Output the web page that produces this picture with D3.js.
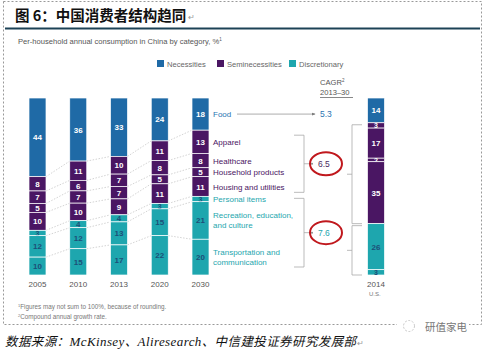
<!DOCTYPE html>
<html>
<head>
<meta charset="utf-8">
<script src="https://cdn.jsdelivr.net/npm/d3@7"></script>
<style>
  body { margin: 0; background: #fff; }
  svg { display: block; }
</style>
</head>
<body>
<div id="chart"></div>
<script>
// data
const years = ["2005", "2010", "2013", "2020", "2030"];
const categories = ["Food", "Apparel", "Healthcare", "Household products", "Housing and utilities",
    "Personal items", "Recreation, education,|and culture", "Transportation and|communication"];
const categoryGroup = ["Necessities", "Seminecessities", "Seminecessities", "Seminecessities",
    "Seminecessities", "Discretionary", "Discretionary", "Discretionary"];
const values2005 = [44, 8, 7, 5, 10, 3, 12, 10];
const values2010 = [36, 11, 6, 7, 10, 4, 12, 15];
const values2013 = [33, 10, 7, 7, 9, 4, 13, 17];
const values2020 = [24, 11, 8, 5, 11, 3, 15, 22];
const values2030 = [18, 13, 8, 5, 11, 3, 21, 20];
const valuesUS2014 = [14, 3, 17, 2, 35, 0, 26, 3];
const groups = ["Necessities", "Seminecessities", "Discretionary"];
const cagrValues = ["5.3", "6.5", "7.6"];

const width = 486, height = 351;
const barTop = 98, barBottom = 275, barW = 17;
const font = "'Liberation Sans', Arial, sans-serif";

const color = d3.scaleOrdinal().domain(groups).range(["#1f6aa6", "#4a1663", "#1ea6ae"]);
const textColor = d3.scaleOrdinal().domain(groups).range(["#fff", "#fff", "#1d4f78"]);
const labelColor = d3.scaleOrdinal().domain(groups).range(["#2b74b2", "#4a1663", "#1ea6ae"]);

const svg = d3.select("#chart").append("svg")
    .attr("width", width)
    .attr("height", height);

// dashed frame
svg.append("rect")
    .attr("x", 3.5).attr("y", 1.5)
    .attr("width", 478).attr("height", 323)
    .attr("fill", "none")
    .attr("stroke", "#999")
    .attr("stroke-dasharray", "2,2");

// title
svg.append("text")
    .attr("x", 15).attr("y", 21)
    .style("font-family", "'Noto Sans CJK SC', sans-serif")
    .style("font-size", "14.5px")
    .style("font-weight", 700)
    .style("fill", "#111")
    .text("图 6：中国消费者结构趋同");
svg.append("text")
    .attr("x", 188).attr("y", 20)
    .style("font-family", font)
    .style("font-size", "8px")
    .style("fill", "#999")
    .text("↵");

svg.append("line")
    .attr("x1", 5).attr("x2", 480)
    .attr("y1", 28.5).attr("y2", 28.5)
    .attr("stroke", "#1c4256")
    .attr("stroke-width", 2.2);

svg.append("text")
    .attr("x", 18).attr("y", 44)
    .style("font-family", font)
    .style("font-size", "7.6px")
    .style("fill", "#555")
    .text("Per-household annual consumption in China by category, %")
    .append("tspan")
    .attr("dy", -3)
    .style("font-size", "4.5px")
    .text("1");

// legend
const legendX = [157, 217, 289];
const legend = svg.selectAll(".legend-item")
    .data(groups)
    .enter()
    .append("g")
    .attr("class", "legend-item")
    .attr("transform", (d, i) => `translate(${legendX[i]}, 60)`);
legend.append("rect")
    .attr("width", 7).attr("height", 7)
    .attr("fill", d => color(d));
legend.append("text")
    .attr("x", 10).attr("y", 6.5)
    .style("font-family", font)
    .style("font-size", "7.6px")
    .style("fill", "#666")
    .text(d => d);

// bars
const xScale = d3.scalePoint().domain(years).range([37.5, 200.5]);
const series = [values2005, values2010, values2013, values2020, values2030];

function stackBar(values) {
    const y = d3.scaleLinear().domain([0, d3.sum(values)]).range([barTop, barBottom]);
    const ends = d3.cumsum(values);
    return values.map((v, i) => ({
        value: v,
        group: categoryGroup[i],
        y0: y(ends[i] - v),
        y1: y(ends[i])
    }));
}

const stacks = series.map(stackBar);
const usStack = stackBar(valuesUS2014);

// dotted connectors between neighbouring bars
const connectors = svg.append("g");
for (let b = 0; b < stacks.length - 1; b++) {
    for (let i = 0; i < categories.length - 1; i++) {
        connectors.append("line")
            .attr("x1", xScale(years[b]) + barW / 2)
            .attr("x2", xScale(years[b + 1]) - barW / 2)
            .attr("y1", stacks[b][i].y1)
            .attr("y2", stacks[b + 1][i].y1)
            .attr("stroke", "#c8c8c8")
            .attr("stroke-width", 0.8)
            .attr("stroke-dasharray", "1.5,1.5");
    }
}

function drawBar(g, stack) {
    const seg = g.selectAll(".seg")
        .data(stack.filter(d => d.value > 0))
        .enter()
        .append("g")
        .attr("class", "seg");
    seg.append("rect")
        .attr("x", -barW / 2)
        .attr("y", d => d.y0)
        .attr("width", barW)
        .attr("height", d => d.y1 - d.y0)
        .attr("fill", d => color(d.group))
        .attr("stroke", "#fff")
        .attr("stroke-width", 0.7);
    seg.append("text")
        .attr("x", 0)
        .attr("y", d => (d.y0 + d.y1) / 2 + 3)
        .style("font-family", font)
        .style("font-size", d => d.value <= 3 ? "7px" : "8px")
        .style("font-weight", 700)
        .style("text-anchor", "middle")
        .style("fill", d => textColor(d.group))
        .text(d => d.value);
}

stacks.forEach((stack, b) => {
    const g = svg.append("g").attr("transform", `translate(${xScale(years[b])}, 0)`);
    drawBar(g, stack);
    g.append("text")
        .attr("y", 287)
        .style("font-family", font)
        .style("font-size", "8px")
        .style("fill", "#555")
        .style("text-anchor", "middle")
        .text(years[b]);
});

const usX = 376;
const usG = svg.append("g").attr("transform", `translate(${usX}, 0)`);
drawBar(usG, usStack);
usG.append("text")
    .attr("y", 287)
    .style("font-family", font)
    .style("font-size", "8px")
    .style("fill", "#555")
    .style("text-anchor", "middle")
    .text("2014");
usG.append("text")
    .attr("x", -7)
    .attr("y", 296)
    .style("font-family", font)
    .style("font-size", "6px")
    .style("fill", "#777")
    .text("U.S.");

// category labels next to 2030 bar
const last = stacks[stacks.length - 1];
const labelX = xScale("2030") + barW / 2 + 4;
const catLabels = svg.selectAll(".cat-label")
    .data(categories)
    .enter()
    .append("text")
    .attr("class", "cat-label")
    .attr("x", labelX)
    .attr("y", (d, i) => {
        const lines = d.split("|").length;
        return (last[i].y0 + last[i].y1) / 2 + 3 - (lines - 1) * 5;
    })
    .style("font-family", font)
    .style("font-size", "8px")
    .style("fill", (d, i) => labelColor(categoryGroup[i]));
catLabels.each(function(d) {
    const el = d3.select(this);
    d.split("|").forEach((line, k) => {
        el.append("tspan")
            .attr("x", labelX)
            .attr("dy", k === 0 ? 0 : 10)
            .text(line);
    });
});

// CAGR header
const cagrX = 320;
svg.append("text")
    .attr("x", cagrX).attr("y", 85)
    .style("font-family", font)
    .style("font-size", "7.6px")
    .style("fill", "#555")
    .text("CAGR")
    .append("tspan")
    .attr("dy", -3)
    .style("font-size", "4.5px")
    .text("2");
svg.append("text")
    .attr("x", cagrX).attr("y", 95)
    .style("font-family", font)
    .style("font-size", "7.6px")
    .style("fill", "#555")
    .text("2013–30");
svg.append("line")
    .attr("x1", cagrX).attr("x2", cagrX + 33)
    .attr("y1", 97.5).attr("y2", 97.5)
    .attr("stroke", "#555").attr("stroke-width", 0.7);

// arrow from Food
svg.append("defs").append("marker")
    .attr("id", "arr")
    .attr("viewBox", "0 0 6 6")
    .attr("refX", 5).attr("refY", 3)
    .attr("markerWidth", 5).attr("markerHeight", 5)
    .attr("orient", "auto")
    .append("path")
    .attr("d", "M0,0.5 L6,3 L0,5.5 Z")
    .attr("fill", "#777");

const foodY = (last[0].y0 + last[0].y1) / 2;
svg.append("line")
    .attr("x1", 237).attr("x2", 315)
    .attr("y1", foodY).attr("y2", foodY)
    .attr("stroke", "#888").attr("stroke-width", 0.7)
    .attr("marker-end", "url(#arr)");

// brackets
const bracketColor = "#aaa";
function bracket(x, y0, y1, dir, tick) {
    // dir: -1 -> ends point left, tick points right; 1 -> ends point right, tick left
    const g = svg.append("g")
        .attr("fill", "none")
        .attr("stroke", bracketColor)
        .attr("stroke-width", 0.8);
    g.append("path")
        .attr("d", `M${x + dir * 10},${y0} H${x} V${y1} H${x + dir * 10}`);
    const mid = (y0 + y1) / 2;
    g.append("line")
        .attr("x1", x).attr("x2", x - dir * tick)
        .attr("y1", mid).attr("y2", mid);
    return mid;
}

const semiMid = bracket(304, last[1].y0 + 5, last[4].y1 - 4, -1, 6);
const discMid = bracket(304, last[5].y0 + 2, last[7].y1 - 8, -1, 6);
bracket(352, usStack[1].y0 + 2, usStack[4].y1, 1, 5);
bracket(352, usStack[5].y0 + 2, usStack[7].y1, 1, 5);

const cagrData = [
    { value: cagrValues[0], y: foodY, group: "Necessities", circle: false },
    { value: cagrValues[1], y: semiMid, group: "Seminecessities", circle: true },
    { value: cagrValues[2], y: discMid, group: "Discretionary", circle: true }
];

svg.selectAll(".cagr-dot")
    .data(cagrData.filter(d => d.circle))
    .enter()
    .append("circle")
    .attr("cx", 312).attr("cy", d => d.y)
    .attr("r", 1)
    .attr("fill", "#888");

svg.selectAll(".cagr")
    .data(cagrData)
    .enter()
    .append("text")
    .attr("x", d => d.circle ? 318 : cagrX)
    .attr("y", d => d.y + 3)
    .style("font-family", font)
    .style("font-size", "8.5px")
    .style("fill", d => d.group === "Seminecessities" ? "#4a2a63" : labelColor(d.group))
    .text(d => d.value);

svg.selectAll(".ring")
    .data(cagrData.filter(d => d.circle))
    .enter()
    .append("ellipse")
    .attr("cx", 326).attr("cy", d => d.y)
    .attr("rx", 16).attr("ry", 11.5)
    .attr("fill", "none")
    .attr("stroke", "#c0181d")
    .attr("stroke-width", 2);

// footnotes
const notes = svg.append("g")
    .style("font-family", font)
    .style("font-size", "6.3px")
    .style("fill", "#777");
const n1 = notes.append("text").attr("x", 18).attr("y", 309);
n1.append("tspan").attr("dy", -2).style("font-size", "4px").text("1");
n1.append("tspan").attr("dy", 2).text("Figures may not sum to 100%, because of rounding.");
const n2 = notes.append("text").attr("x", 18).attr("y", 319);
n2.append("tspan").attr("dy", -2).style("font-size", "4px").text("2");
n2.append("tspan").attr("dy", 2).text("Compound annual growth rate.");

// watermark
svg.append("rect")
    .attr("x", 397).attr("y", 318)
    .attr("width", 72).attr("height", 16)
    .attr("fill", "#fff");
svg.append("circle")
    .attr("cx", 409).attr("cy", 326)
    .attr("r", 5.5)
    .attr("fill", "none")
    .attr("stroke", "#bbb")
    .attr("stroke-width", 0.8)
    .attr("stroke-dasharray", "2,1.5");
svg.append("text")
    .attr("x", 425).attr("y", 331)
    .style("font-family", "'Noto Sans CJK SC', sans-serif")
    .style("font-size", "10.5px")
    .style("fill", "#777")
    .text("研值家电");

// source line
const src = svg.append("text")
    .attr("x", 5).attr("y", 346)
    .style("font-family", "'Noto Sans CJK SC', sans-serif")
    .style("font-size", "12.5px")
    .style("letter-spacing", "0.4px")
    .style("font-style", "italic")
    .style("fill", "#111");
src.append("tspan").text("数据来源：");
src.append("tspan").style("font-family", "'Liberation Serif', serif").style("font-size", "13px").text("McKinsey");
src.append("tspan").text("、");
src.append("tspan").style("font-family", "'Liberation Serif', serif").style("font-size", "13px").text("Aliresearch");
src.append("tspan").text("、中信建投证券研究发展部");
src.append("tspan").style("fill", "#999").style("font-size", "8px").style("font-style", "normal").text("↵");
</script>
</body>
</html>
